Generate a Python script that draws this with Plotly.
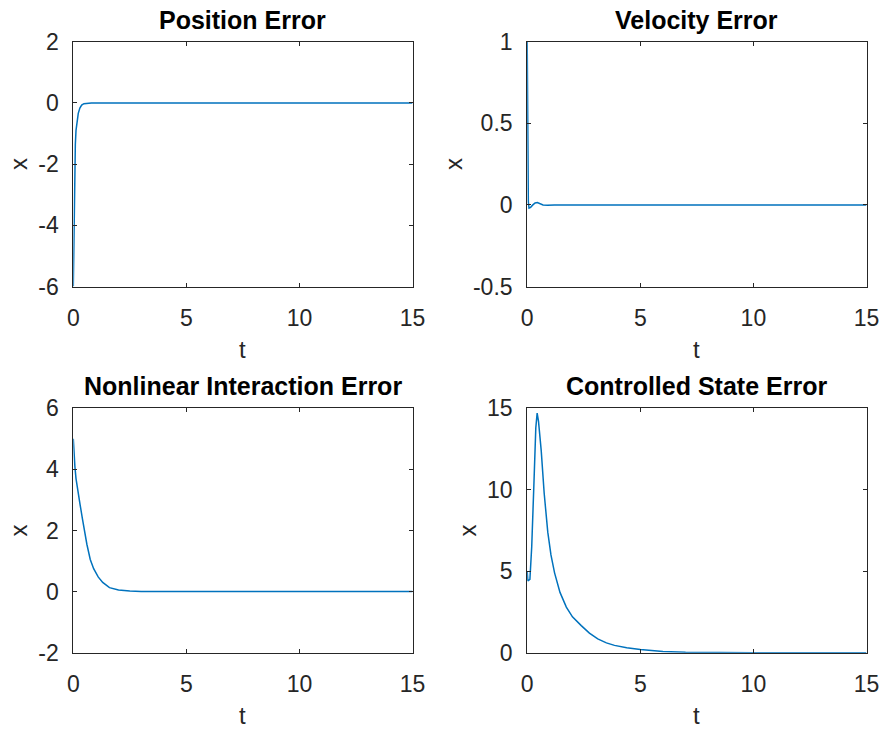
import plotly.graph_objects as go

# ---- data ----
pos_t = [0, 0.015, 0.03, 0.045, 0.06, 0.09, 0.12, 0.16, 0.22, 0.29, 0.37, 0.47, 0.6, 0.8, 1.0, 15]
pos_x = [-6.0, -4.9, -4.0, -2.9, -2.0, -1.35, -0.9, -0.6, -0.34, -0.17, -0.07, -0.025, -0.008, -0.002, 0, 0]

vel_t = [0, 0.02, 0.05, 0.08, 0.15, 0.25, 0.35, 0.45, 0.55, 0.7, 0.9, 1.2, 15]
vel_x = [1.0, 0.45, 0.02, -0.02, -0.015, 0.0, 0.012, 0.015, 0.008, 0.0, -0.002, 0, 0]

nl_t = [0, 0.03, 0.07, 0.12, 0.2, 0.3, 0.4, 0.5, 0.6, 0.75, 0.9, 1.1, 1.3, 1.6, 2.0, 2.5, 3.0, 4.0, 15]
nl_x = [5.0, 4.5, 4.1, 3.7, 3.25, 2.85, 2.4, 1.95, 1.55, 1.05, 0.75, 0.48, 0.3, 0.13, 0.05, 0.02, 0.005, 0, 0]

cs_t = [0, 0.03, 0.12, 0.2, 0.3, 0.38, 0.44, 0.5, 0.62, 0.75, 0.91, 1.05, 1.21, 1.45, 1.73, 2.0,
        2.39, 2.75, 3.12, 3.5, 3.86, 4.4, 5.0, 6.0, 7.0, 8.0, 10.0, 15.0]
cs_x = [5.0, 4.4, 4.5, 6.5, 10.5, 13.8, 14.7, 14.2, 12.4, 9.8, 7.4, 6.0, 4.9, 3.7, 2.8, 2.2,
        1.66, 1.2, 0.85, 0.6, 0.45, 0.3, 0.2, 0.08, 0.03, 0.01, 0.0, 0.0]

titles = ["Position Error", "Velocity Error", "Nonlinear Interaction Error", "Controlled State Error"]
x_ticks = [0, 5, 10, 15]
y_ticks = [[-6, -4, -2, 0, 2], [-0.5, 0, 0.5, 1], [-2, 0, 2, 4, 6], [0, 5, 10, 15]]
y_tick_text = [["-6", "-4", "-2", "0", "2"], ["-0.5", "0", "0.5", "1"],
               ["-2", "0", "2", "4", "6"], ["0", "5", "10", "15"]]
y_ranges = [[-6, 2], [-0.5, 1], [-2, 6], [0, 15]]

W, H = 885, 731
# pixel boxes (left, right, top, bottom)
boxes = [(73.3, 412.5, 41.7, 286.5), (527.2, 866.5, 41.7, 286.5),
         (73.3, 412.5, 408.3, 652.7), (527.2, 866.5, 408.3, 652.7)]

LINE = "#0072BD"
AX = "#262626"
FONT = "Liberation Sans"

fig = go.Figure()
series = [(pos_t, pos_x), (vel_t, vel_x), (nl_t, nl_x), (cs_t, cs_x)]
annotations = []
for i, ((t, x), (l, r, tp, bt)) in enumerate(zip(series, boxes)):
    n = "" if i == 0 else str(i + 1)
    fig.add_trace(go.Scatter(x=t, y=x, mode="lines", line=dict(color=LINE, width=1.5),
                             xaxis="x" + n, yaxis="y" + n, showlegend=False,
                             hoverinfo="skip"))
    common = dict(showline=True, linecolor=AX, linewidth=1, mirror="ticks",
                  ticks="inside", ticklen=4, tickcolor=AX, showgrid=False,
                  zeroline=False, automargin=False,
                  tickfont=dict(family=FONT, size=23, color=AX))
    fig.update_layout(**{
        "xaxis" + n: dict(domain=[l / W, r / W], range=[0, 15], tickvals=x_ticks,
                          anchor="y" + n, ticklabelstandoff=11, **common),
        "yaxis" + n: dict(domain=[1 - bt / H, 1 - tp / H], range=y_ranges[i],
                          tickvals=y_ticks[i], ticktext=y_tick_text[i],
                          anchor="x" + n, ticklabelstandoff=9, **common),
    })
    cx = (l + r) / 2
    annotations.append(dict(text="<b>" + titles[i] + "</b>", x=cx / W, y=1 - (tp - 22) / H,
                            xref="paper", yref="paper", showarrow=False,
                            xanchor="center", yanchor="middle",
                            font=dict(family=FONT, size=25, color="black")))
    annotations.append(dict(text="t", x=cx / W, y=1 - (bt + 63) / H,
                            xref="paper", yref="paper", showarrow=False,
                            xanchor="center", yanchor="middle",
                            font=dict(family=FONT, size=24, color=AX)))
    xl = [18, 453, 18, 467][i]
    annotations.append(dict(text="x", x=xl / W, y=1 - ((tp + bt) / 2) / H,
                            xref="paper", yref="paper", showarrow=False,
                            xanchor="center", yanchor="middle", textangle=-90,
                            font=dict(family=FONT, size=24, color=AX)))

fig.update_layout(template="none", width=W, height=H,
                  margin=dict(l=0, r=0, t=0, b=0, pad=0, autoexpand=False),
                  plot_bgcolor="white", paper_bgcolor="white",
                  annotations=annotations)

post = ("document.body.style.margin='0';document.body.style.overflow='hidden';")
fig.write_html("out.html", post_script=post,
               config={"displayModeBar": False, "responsive": False})
